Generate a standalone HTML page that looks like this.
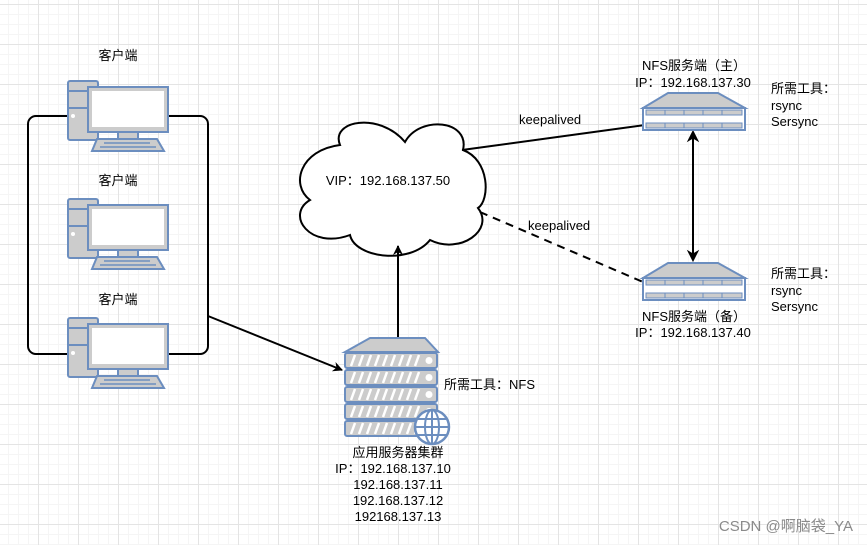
<!DOCTYPE html>
<html><head><meta charset="utf-8"><style>
html,body{margin:0;padding:0;background:#fff}
svg{display:block}
text{font-family:"Liberation Sans","Noto Sans CJK SC",sans-serif;font-size:13px;fill:#000}
</style></head><body>
<svg width="867" height="545" viewBox="0 0 867 545" xmlns="http://www.w3.org/2000/svg">
<defs>
<pattern id="minor" width="10" height="10" patternUnits="userSpaceOnUse" x="8" y="4">
<path d="M0 0.5H10M0.5 0V10" stroke="#f5f5f5" stroke-width="1" fill="none"/>
</pattern>
<pattern id="major" width="40" height="40" patternUnits="userSpaceOnUse" x="38" y="4">
<path d="M0 0.5H40M0.5 0V40" stroke="#e4e4e4" stroke-width="1" fill="none"/>
</pattern>
<g id="pc">
<rect x="68" y="81" width="30" height="59" rx="2" fill="#cccccc" stroke="#6c8ebf" stroke-width="2"/>
<line x1="68" y1="91" x2="98" y2="91" stroke="#6c8ebf" stroke-width="2"/>
<line x1="68" y1="108" x2="98" y2="108" stroke="#6c8ebf" stroke-width="2"/>
<circle cx="73" cy="116" r="2" fill="#fff"/>
<rect x="88" y="87" width="80" height="45" fill="#cccccc" stroke="#6c8ebf" stroke-width="2"/>
<rect x="92" y="91" width="72" height="36" fill="#fff"/>
<rect x="118" y="132" width="20" height="7" fill="#cccccc" stroke="#6c8ebf" stroke-width="2"/>
<path d="M97 139H157L164 151H92Z" fill="#cccccc" stroke="#6c8ebf" stroke-width="2"/>
<path d="M104 143H150M100 147H156" stroke="#6c8ebf" stroke-width="1.5"/>
</g>
<g id="nfs">
<path d="M668 0H718L745 15H643Z" fill="#cccccc" stroke="#6c8ebf" stroke-width="2"/>
<rect x="643" y="15" width="102" height="22" fill="#fff" stroke="#6c8ebf" stroke-width="2"/>
<rect x="646" y="17" width="96" height="5" fill="#cccccc" stroke="#6c8ebf" stroke-width="1"/>
<rect x="646" y="30" width="96" height="5" fill="#cccccc" stroke="#6c8ebf" stroke-width="1"/>
<path d="M665 17V22M684 17V22M703 17V22M722 17V22M665 30V35M684 30V35M703 30V35M722 30V35" stroke="#6c8ebf" stroke-width="1"/>
</g>
<g id="row">
<rect x="0" y="0" width="92" height="15" rx="2" fill="#cccccc" stroke="#6c8ebf" stroke-width="2"/>
<path d="M6 13L10 2M14 13L18 2M22 13L26 2M30 13L34 2M38 13L42 2M46 13L50 2M54 13L58 2M62 13L66 2M70 13L74 2" stroke="#fff" stroke-width="2.5"/>
<circle cx="84" cy="7.5" r="3.5" fill="#fff"/>
</g>
<marker id="ah" markerWidth="10" markerHeight="10" refX="9" refY="5" orient="auto" markerUnits="userSpaceOnUse">
<path d="M0 0L10 5L0 10L3 5Z" fill="#000"/>
</marker>
</defs>
<rect width="867" height="545" fill="url(#minor)"/>
<rect width="867" height="545" fill="url(#major)"/>

<!-- loop -->
<rect x="28" y="116" width="180" height="238" rx="8" fill="none" stroke="#000" stroke-width="2"/>
<use href="#pc"/>
<use href="#pc" y="118"/>
<use href="#pc" y="237"/>
<text x="118" y="60" text-anchor="middle">客户端</text>
<text x="118" y="185" text-anchor="middle">客户端</text>
<text x="118" y="304" text-anchor="middle">客户端</text>

<!-- cloud -->
<path d="M340 145C330 120 380 112 405 142C420 115 470 120 463 150C490 160 490 200 478 208C495 230 460 255 430 240C410 265 355 258 350 235C310 250 285 215 310 200C290 185 300 150 340 145Z" fill="#fff" stroke="#000" stroke-width="2"/>
<text x="388" y="185" text-anchor="middle">VIP：192.168.137.50</text>

<!-- connectors -->
<line x1="208" y1="316" x2="342" y2="370" stroke="#000" stroke-width="2" marker-end="url(#ah)"/>
<line x1="398" y1="338" x2="398" y2="246" stroke="#000" stroke-width="2" marker-end="url(#ah)"/>
<line x1="462" y1="150" x2="645" y2="125" stroke="#000" stroke-width="2"/>
<line x1="480" y1="212" x2="643" y2="282" stroke="#000" stroke-width="2" stroke-dasharray="8,6"/>
<line x1="693" y1="258" x2="693" y2="134" stroke="#000" stroke-width="2"/>
<path d="M693 131L688 141L693 138L698 141Z M693 261L688 251L693 254L698 251Z" fill="#000" stroke="#000"/>
<text x="519" y="124">keepalived</text>
<text x="528" y="230">keepalived</text>

<!-- server cluster -->
<path d="M370 338H425L438 352H345Z" fill="#cccccc" stroke="#6c8ebf" stroke-width="2"/>
<use href="#row" x="345" y="353"/>
<use href="#row" x="345" y="370"/>
<use href="#row" x="345" y="387"/>
<use href="#row" x="345" y="404"/>
<use href="#row" x="345" y="421"/>
<circle cx="432" cy="427" r="17" fill="#fff" stroke="#6c8ebf" stroke-width="2.5"/>
<ellipse cx="432" cy="427" rx="7" ry="17" fill="none" stroke="#6c8ebf" stroke-width="2"/>
<path d="M415 427H449M418 419H446M418 435H446M432 410V444" stroke="#6c8ebf" stroke-width="2"/>
<text x="444" y="389">所需工具：NFS</text>
<text x="398" y="457" text-anchor="middle">应用服务器集群</text>
<text x="393" y="473" text-anchor="middle">IP：192.168.137.10</text>
<text x="398" y="489" text-anchor="middle">192.168.137.11</text>
<text x="398" y="505" text-anchor="middle">192.168.137.12</text>
<text x="398" y="521" text-anchor="middle">192168.137.13</text>

<!-- NFS -->
<use href="#nfs" y="93"/>
<use href="#nfs" y="263"/>
<text x="694" y="70" text-anchor="middle">NFS服务端（主）</text>
<text x="693" y="87" text-anchor="middle">IP：192.168.137.30</text>
<text x="771" y="93">所需工具：</text>
<text x="771" y="110">rsync</text>
<text x="771" y="126">Sersync</text>
<text x="694" y="321" text-anchor="middle">NFS服务端（备）</text>
<text x="693" y="337" text-anchor="middle">IP：192.168.137.40</text>
<text x="771" y="278">所需工具：</text>
<text x="771" y="295">rsync</text>
<text x="771" y="311">Sersync</text>

<text x="853" y="531" text-anchor="end" style="font-size:15px;fill:#8a8a8a">CSDN @啊脑袋_YA</text>
</svg>
</body></html>
